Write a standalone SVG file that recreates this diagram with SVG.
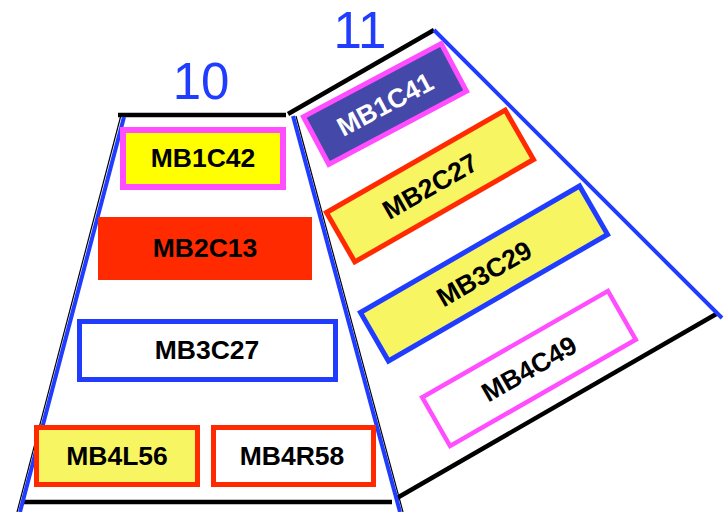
<svg xmlns="http://www.w3.org/2000/svg" width="724" height="512" viewBox="0 0 724 512">
  <style>
    .lbl { font-family: "Liberation Sans", Arial, sans-serif; font-weight: bold; font-size: 26.5px; text-anchor: middle; fill: #000; }
    .num { font-family: "Liberation Sans", Arial, sans-serif; font-size: 51px; fill: #1f3cff; text-anchor: middle; }
    .edge-b { stroke: #000; stroke-width: 4.5; fill: none; }
    .edge-thin { stroke: #000; stroke-width: 1.2; fill: none; }
    .edge-s { stroke: #1f3cff; stroke-width: 4; fill: none; }
  </style>
  <rect width="724" height="512" fill="#fff"/>

  <!-- trapezoid outlines -->
  <g id="frames">
    <line class="edge-thin" x1="120.5" y1="117" x2="17" y2="512"/>
    <line class="edge-thin" x1="296" y1="116" x2="403" y2="512"/>
    <line class="edge-b" x1="118" y1="115" x2="286" y2="115"/>
    <line class="edge-b" x1="22" y1="502" x2="392" y2="502"/>
    <line class="edge-b" x1="288" y1="114" x2="434" y2="30"/>
    <line class="edge-b" x1="397" y1="498" x2="718" y2="313"/>
    <line class="edge-s" x1="124" y1="117" x2="20" y2="512"/>
    <line class="edge-s" x1="293" y1="116" x2="400" y2="512"/>
    <line class="edge-s" x1="434" y1="30" x2="722" y2="318"/>
  </g>

  <text class="num" x="201" y="99">10</text>
  <text class="num" x="360" y="48">11</text>

  <!-- column 10 -->
  <g id="MB1C42">
    <rect x="123" y="130" width="160" height="57" fill="#ffff00" stroke="#ff4dff" stroke-width="6"/>
    <text class="lbl" x="203" y="167">MB1C42</text>
  </g>
  <g id="MB2C13">
    <rect x="98" y="217" width="214" height="63" fill="#ff2a00"/>
    <text class="lbl" x="205" y="257">MB2C13</text>
  </g>
  <g id="MB3C27">
    <rect x="79.5" y="321.5" width="256" height="58" fill="#fff" stroke="#1f3cff" stroke-width="5"/>
    <text class="lbl" x="207" y="359">MB3C27</text>
  </g>
  <g id="MB4L56">
    <rect x="36.5" y="427.5" width="161" height="57" fill="#f8f562" stroke="#ff2a00" stroke-width="5"/>
    <text class="lbl" x="117" y="465">MB4L56</text>
  </g>
  <g id="MB4R58">
    <rect x="213.5" y="427.5" width="160" height="57" fill="#fff" stroke="#ff2a00" stroke-width="5"/>
    <text class="lbl" x="292" y="465">MB4R58</text>
  </g>

  <!-- column 11, tilted rows -->
  <g id="MB1C41" transform="translate(385 104) rotate(-28)">
    <rect x="-78" y="-27" width="156" height="54" fill="#4448a8" stroke="#ff4dff" stroke-width="5"/>
    <text class="lbl" x="0" y="9.5" style="fill:#fff">MB1C41</text>
  </g>
  <g id="MB2C27" transform="translate(430 186) rotate(-29.8)">
    <rect x="-103" y="-28.5" width="206" height="57" fill="#f8f562" stroke="#ff2a00" stroke-width="5"/>
    <text class="lbl" x="0" y="9.5">MB2C27</text>
  </g>
  <g id="MB3C29" transform="translate(484 273.5) rotate(-30)">
    <rect x="-126.5" y="-28" width="253" height="56" fill="#f8f562" stroke="#1f3cff" stroke-width="5"/>
    <text class="lbl" x="0" y="9.5">MB3C29</text>
  </g>
  <g id="MB4C49" transform="translate(529 368.5) rotate(-29.8)">
    <rect x="-107" y="-28" width="214" height="56" fill="#fff" stroke="#ff4dff" stroke-width="4.5"/>
    <text class="lbl" x="0" y="9.5">MB4C49</text>
  </g>
</svg>
